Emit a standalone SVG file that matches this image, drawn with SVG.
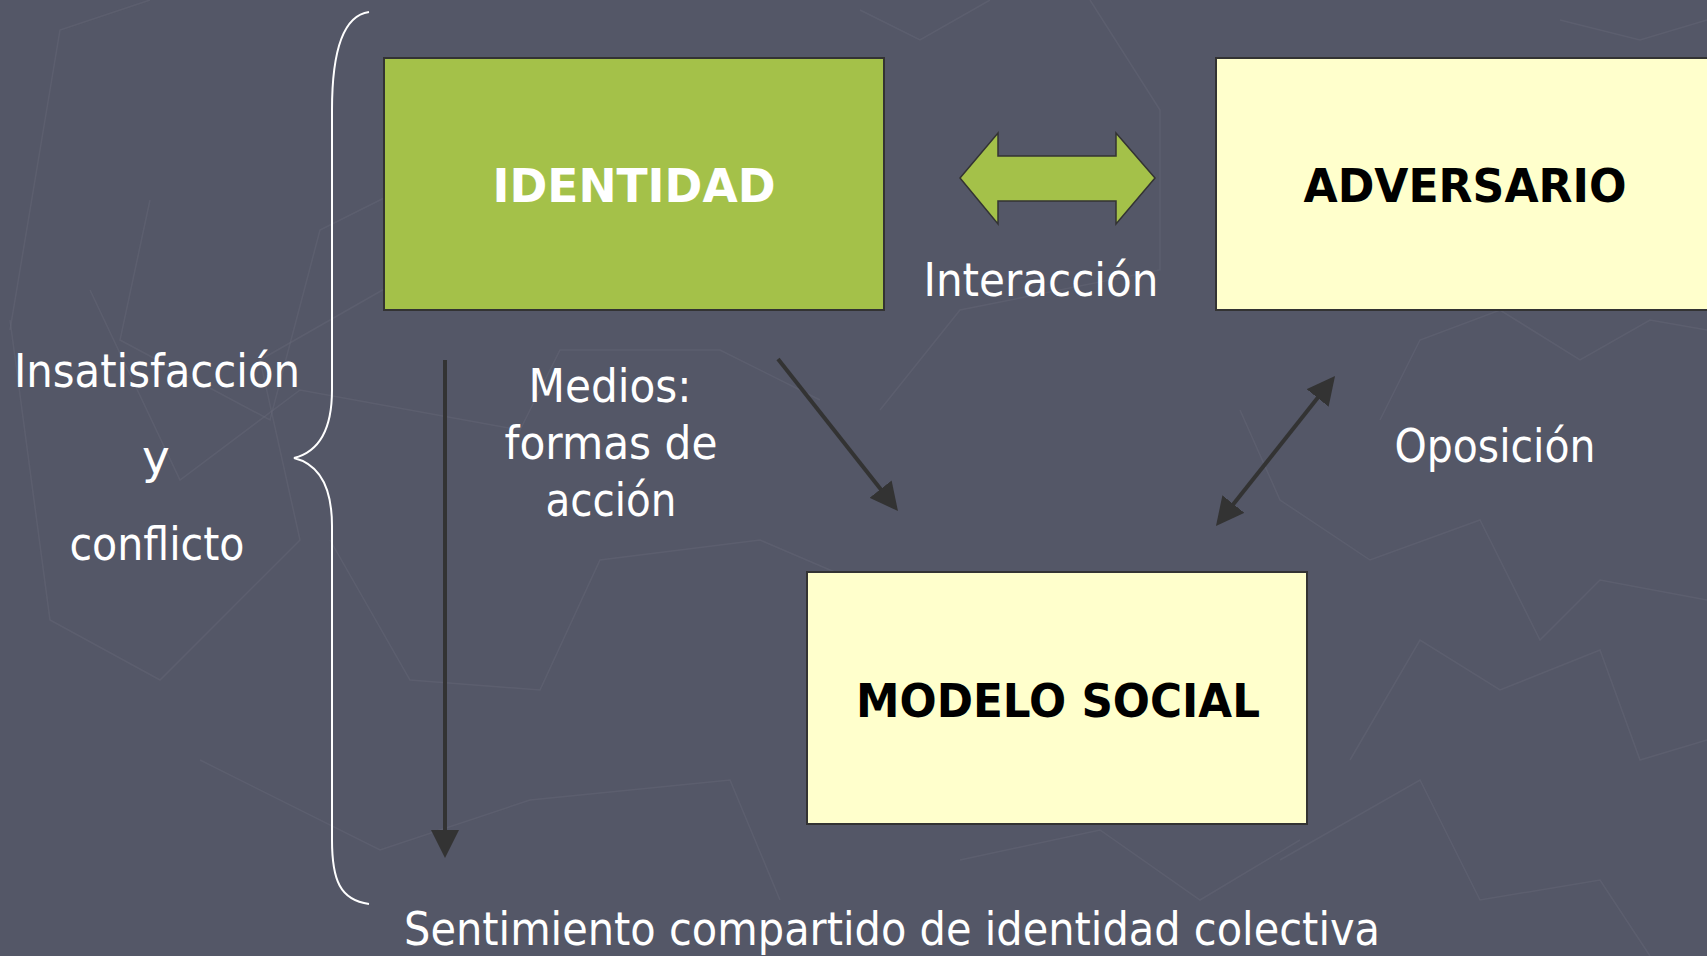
<svg xmlns="http://www.w3.org/2000/svg" width="1707" height="956" viewBox="0 0 1707 956">
<defs>
<style>
.bg{fill:#545767}
.tex{fill:none;stroke:#656878;stroke-width:1.5;opacity:0.45}
.box{stroke:#333333;stroke-width:2}
.green{fill:#A4C149}
.yellow{fill:#FFFFCC}
.lbl{font-family:"DejaVu Sans","Liberation Sans",sans-serif;font-size:47px;fill:#FFFFFF;text-anchor:middle}
.bold{font-family:"DejaVu Sans","Liberation Sans",sans-serif;font-size:47px;font-weight:bold;text-anchor:middle}
.conn{fill:none;stroke:#333333;stroke-width:4}
.brace{fill:none;stroke:#FFFFFF;stroke-width:2}
</style>
<marker id="ah" viewBox="0 0 28 28" refX="4" refY="14" markerWidth="28" markerHeight="28" markerUnits="userSpaceOnUse" orient="auto-start-reverse">
<path d="M0,0 L28,14 L0,28 z" fill="#333333"/>
</marker>
</defs>
<rect class="bg" x="0" y="0" width="1707" height="956"/>
<g id="background-texture">
<polyline class="tex" points="10,330 60,30 150,0"/>
<polyline class="tex" points="10,320 50,620 160,680 300,540 260,360 400,280 500,250 740,160"/>
<polyline class="tex" points="150,200 120,340 270,420 320,230 420,180"/>
<polyline class="tex" points="90,290 180,480 300,390 520,430 560,350 720,350 820,400"/>
<polyline class="tex" points="330,540 410,680 540,690 600,560 760,540 900,600 900,700"/>
<polyline class="tex" points="200,760 380,850 530,800 730,780 780,900"/>
<polyline class="tex" points="880,410 960,310 1160,270 1160,110 1090,0"/>
<polyline class="tex" points="860,10 920,40 990,0"/>
<polyline class="tex" points="1240,410 1280,500 1370,560 1480,520 1540,640 1600,580 1707,600"/>
<polyline class="tex" points="1350,760 1420,640 1500,690 1600,650 1640,760 1707,740"/>
<polyline class="tex" points="1280,860 1420,780 1480,900 1600,880 1650,956"/>
<polyline class="tex" points="1380,420 1420,340 1500,310 1580,360 1650,320 1707,330"/>
<polyline class="tex" points="960,860 1100,830 1200,900 1300,840"/>
<polyline class="tex" points="1560,20 1640,40 1707,20"/>
</g>
<g id="brace">
<path class="brace" d="M369,12 C340,16 332,60 332,110 L332,390 C332,430 318,452 294,458 C318,464 332,486 332,526 L332,840 C332,880 340,900 369,904"/>
</g>
<g id="connectors">
<polygon id="interaccion-arrow" class="green" stroke="#333333" stroke-width="1.5" points="960,178 998,133 998,156 1116,156 1116,133 1155,178 1116,224 1116,201 998,201 998,224"/>
<line class="conn" x1="445" y1="360" x2="445" y2="834" marker-end="url(#ah)"/>
<line class="conn" x1="778" y1="359" x2="883.1" y2="492.2" marker-end="url(#ah)"/>
<line class="conn" x1="1230.9" y1="507.2" x2="1320.1" y2="394.8" marker-start="url(#ah)" marker-end="url(#ah)"/>
</g>
<g id="identidad">
<rect class="box green" x="384" y="58" width="500" height="252"/>
<text class="bold" x="634" y="202" fill="#FFFFFF" textLength="283" lengthAdjust="spacingAndGlyphs">IDENTIDAD</text>
</g>
<g id="adversario">
<rect class="box yellow" x="1216" y="58" width="520" height="252"/>
<text class="bold" x="1465" y="202" fill="#000000" textLength="323" lengthAdjust="spacingAndGlyphs">ADVERSARIO</text>
</g>
<g id="modelo-social">
<rect class="box yellow" x="807" y="572" width="500" height="252"/>
<text class="bold" x="1058" y="717" fill="#000000" textLength="404" lengthAdjust="spacingAndGlyphs">MODELO SOCIAL</text>
</g>
<g id="labels">
<text class="lbl" x="157" y="387" textLength="286" lengthAdjust="spacingAndGlyphs">Insatisfacción</text>
<text class="lbl" x="156" y="473">y</text>
<text class="lbl" x="157" y="560" textLength="175" lengthAdjust="spacingAndGlyphs">conflicto</text>
<text class="lbl" x="610" y="402" textLength="163" lengthAdjust="spacingAndGlyphs">Medios:</text>
<text class="lbl" x="611" y="459" textLength="213" lengthAdjust="spacingAndGlyphs">formas de</text>
<text class="lbl" x="611" y="516" textLength="131" lengthAdjust="spacingAndGlyphs">acción</text>
<text class="lbl" x="1041" y="296" textLength="235" lengthAdjust="spacingAndGlyphs">Interacción</text>
<text class="lbl" x="1495" y="462" textLength="201" lengthAdjust="spacingAndGlyphs">Oposición</text>
<text class="lbl" x="892" y="945" textLength="976" lengthAdjust="spacingAndGlyphs">Sentimiento compartido de identidad colectiva</text>
</g>
</svg>
